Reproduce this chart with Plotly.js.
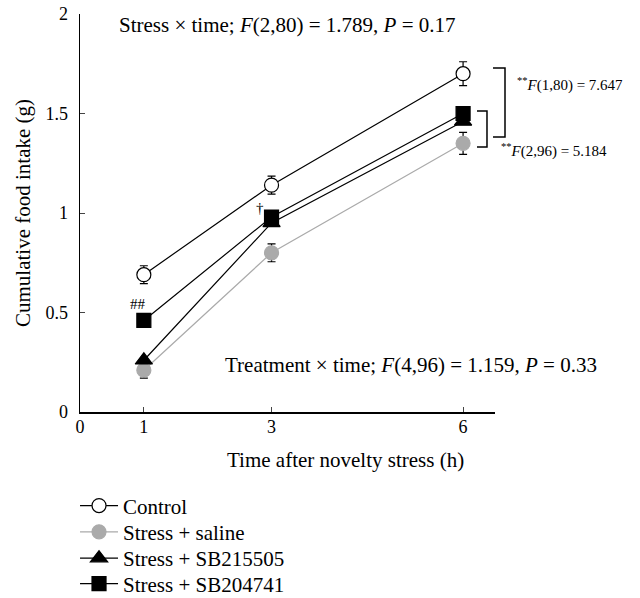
<!DOCTYPE html>
<html>
<head>
<meta charset="utf-8">
<script src="https://cdn.plot.ly/plotly-3.0.1.min.js"></script>
<style>html,body{margin:0;padding:0;background:#fff;}#chart{width:640px;height:598px;}</style>
</head>
<body>
<div id="chart"></div>
<script>
var hours = [1, 3, 6];
var xTickVals = [0, 1, 3, 6];
var xTickText = ['0', '1', '3', '6'];
var yTickVals = [0, 0.5, 1, 1.5, 2];
var yTickText = ['0', '0.5', '1', '1.5', '2'];

var seriesNames = ['Control', 'Stress + saline', 'Stress + SB215505', 'Stress + SB204741'];
var controlVals = [0.69, 1.14, 1.70];
var controlErr = [0.045, 0.045, 0.06];
var salineVals = [0.21, 0.80, 1.35];
var salineErr = [0.04, 0.045, 0.055];
var sb215505Vals = [0.26, 0.95, 1.46];
var sb215505Err = [0, 0, 0];
var sb204741Vals = [0.46, 0.98, 1.50];
var sb204741Err = [0, 0, 0];

var FONT = 'Liberation Serif, Times New Roman, serif';

function mk(name, y, err, sym, size, fill, lineColor, leg) {
  return {
    type: 'scatter', mode: 'lines+markers', name: name, x: hours, y: y,
    legend: leg,
    line: {color: lineColor, width: 1.2},
    marker: {symbol: sym, size: size, color: fill, line: {color: fill === '#ffffff' ? '#000' : fill, width: 1.2}},
    error_y: {type: 'data', array: err, visible: true, color: '#000', thickness: 1.2, width: 4},
    cliponaxis: false
  };
}

var traces = [
  mk(seriesNames[1], salineVals, salineErr, 'circle', 14, '#aaaaaa', '#aaaaaa', 'legend2'),
  mk(seriesNames[2], sb215505Vals, sb215505Err, 'triangle-up', 15, '#000000', '#000000', 'legend3'),
  mk(seriesNames[3], sb204741Vals, sb204741Err, 'square', 14, '#000000', '#000000', 'legend4'),
  mk(seriesNames[0], controlVals, controlErr, 'circle', 14, '#ffffff', '#000000', 'legend')
];

function leg(yPaper) {
  return {x: -0.012, y: yPaper, xanchor: 'left', yanchor: 'middle', itemwidth: 38,
          font: {family: FONT, size: 21, color: '#000'}, bgcolor: 'rgba(0,0,0,0)', borderwidth: 0};
}

var layout = {
  width: 640, height: 598,
  margin: {l: 80, r: 145, t: 14, b: 186, autoexpand: false},
  paper_bgcolor: '#fff', plot_bgcolor: '#fff',
  font: {family: FONT, size: 21, color: '#000'},
  showlegend: true,
  legend: leg(-0.236),
  legend2: leg(-0.302),
  legend3: leg(-0.368),
  legend4: leg(-0.432),
  xaxis: {range: [0, 6.5], tickvals: xTickVals, ticktext: xTickText, ticks: 'inside', ticklen: 5,
          showline: true, linecolor: '#000', linewidth: 1.5, showgrid: false, zeroline: false,
          tickfont: {family: FONT, size: 18}, ticklabelstandoff: -2},
  yaxis: {range: [0, 2], tickvals: yTickVals, ticktext: yTickText, ticks: 'inside', ticklen: 5,
          showline: true, linecolor: '#000', linewidth: 1.5, showgrid: false, zeroline: false,
          tickfont: {family: FONT, size: 18}, ticklabelstandoff: 7,
          title: {text: 'Cumulative food intake (g)', font: {family: FONT, size: 21}, standoff: 9}},
  annotations: [
    {xref: 'paper', yref: 'paper', x: 0.639, y: -0.1206, xanchor: 'center', yanchor: 'middle', showarrow: false,
     text: 'Time after novelty stress (h)', font: {size: 21}},
    {xref: 'paper', yref: 'paper', x: 0.089, y: 0.972, xanchor: 'left', yanchor: 'middle', showarrow: false,
     text: 'Stress × time; <i>F</i>(2,80) = 1.789, <i>P</i> = 0.17', font: {size: 21}},
    {xref: 'paper', yref: 'paper', x: 0.345, y: 0.118, xanchor: 'left', yanchor: 'middle', showarrow: false,
     text: 'Treatment × time; <i>F</i>(4,96) = 1.159, <i>P</i> = 0.33', font: {size: 21}},
    {xref: 'x', yref: 'y', x: 1, y: sb204741Vals[0], yshift: 16, xshift: -6, showarrow: false,
     text: '##', font: {size: 15}},
    {xref: 'x', yref: 'y', x: 3, y: sb204741Vals[1], yshift: 9, xshift: -12, showarrow: false,
     text: '†', font: {size: 15}},
    {xref: 'paper', yref: 'paper', x: 1.048, y: 0.822, xanchor: 'left', yanchor: 'middle', showarrow: false,
     text: '<sup>**</sup><i>F</i>(1,80) = 7.647', font: {size: 15}},
    {xref: 'paper', yref: 'paper', x: 1.0096, y: 0.658, xanchor: 'left', yanchor: 'middle', showarrow: false,
     text: '<sup>**</sup><i>F</i>(2,96) = 5.184', font: {size: 15}}
  ],
  shapes: [
    {type: 'path', xref: 'paper', yref: 'paper', path: 'M 0.9952 0.8643 L 1.0241 0.8643 L 1.0241 0.6910 L 0.9952 0.6910', line: {color: '#000', width: 1.5}},
    {type: 'path', xref: 'paper', yref: 'paper', path: 'M 0.9566 0.7563 L 0.9807 0.7563 L 0.9807 0.6658 L 0.9566 0.6658', line: {color: '#000', width: 1.5}}
  ]
};

Plotly.newPlot('chart', traces, layout, {displayModeBar: false, staticPlot: true});
</script>
</body>
</html>
